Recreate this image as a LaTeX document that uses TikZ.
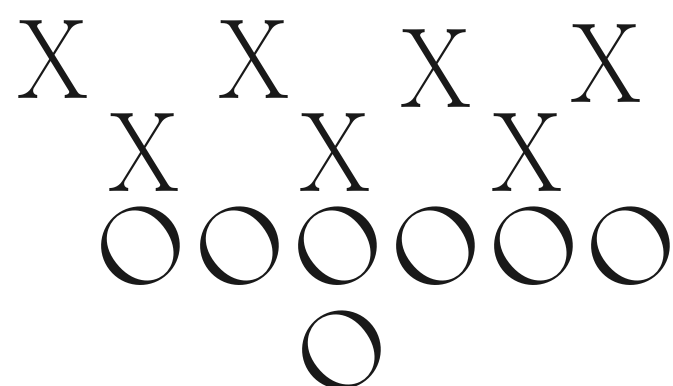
\documentclass[tikz,border=0pt]{standalone}
\usepackage{fontspec}
\begin{document}
\begin{tikzpicture}[x=1pt,y=-1pt,
  xmark/.style={inner sep=0pt,outer sep=0pt,font=\fontsize{114}{120}\selectfont,xscale=0.9,text=black!90},
  omark/.style={inner sep=0pt,outer sep=0pt,font=\fontsize{110}{120}\selectfont,rotate=38,xscale=1.14,text=black!90}]
\useasboundingbox (0,0) rectangle (673,386);
\node[xmark] (x1) at (53,60) {X};
\node[xmark] (x2) at (254,60) {X};
\node[xmark] (x3) at (436,68.5) {X};
\node[xmark] (x4) at (606,63.5) {X};
\node[xmark] (x5) at (144,152.5) {X};
\node[xmark] (x6) at (335.5,152.5) {X};
\node[xmark] (x7) at (527.5,152.5) {X};
\node[omark] (o1) at (141,246) {O};
\node[omark] (o2) at (239.5,246) {O};
\node[omark] (o3) at (338,246) {O};
\node[omark] (o4) at (435.5,246) {O};
\node[omark] (o5) at (533.5,246) {O};
\node[omark] (o6) at (630.5,246) {O};
\node[omark] (o7) at (342,350) {O};
\end{tikzpicture}
\end{document}
